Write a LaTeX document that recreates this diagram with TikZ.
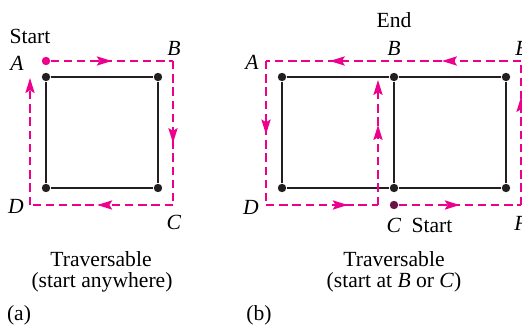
\documentclass[tikz,border=0pt]{standalone}
\usepackage{fontspec}
\setmainfont{Liberation Serif}
\usetikzlibrary{arrows.meta, decorations.markings}
\definecolor{TrailPink}{RGB}{236,0,140}
\definecolor{EdgeGray}{RGB}{35,31,32}

\tikzset{
	vert/.style={circle, fill=EdgeGray, inner sep=0pt, minimum size=4.2pt},
	edge/.style={draw=EdgeGray, line width=0.9pt},
	trail/.style={color=TrailPink, line width=0.85pt, dash pattern=on 4.2pt off 2.4pt},
	trail tip/.style={-{Stealth[length=7.5pt, width=4.6pt, inset=1.4pt]}},
	arrow at/.style={postaction={decorate, decoration={markings,
		mark=at position #1 with {\arrow[color=TrailPink]{Stealth[length=7.5pt, width=4.6pt, inset=1.4pt]}}}}},
	lbl/.style={inner sep=0pt, font=\fontsize{10.8}{13}\selectfont},
}

\begin{document}
\begin{tikzpicture}[x=0.5pt, y=-0.5pt]
	\useasboundingbox (0,0) rectangle (522,326);
	% (a) cuadrado
	\begin{scope}
		\node[vert] (aA) at (46,77) {};
		\node[vert] (aB) at (158,77) {};
		\node[vert] (aC) at (158,188) {};
		\node[vert] (aD) at (46,188) {};
		\foreach \u/\v in {aA/aB, aB/aC, aC/aD, aD/aA}
			\draw[edge] (\u) -- (\v);
		% recorrido
		\node[vert, fill=TrailPink] (aS) at (46,61) {};
		\coordinate (a1) at (173,61);
		\coordinate (a2) at (173,205);
		\coordinate (a3) at (30,205);
		\coordinate (a4) at (30,78);
		\draw[trail, arrow at=0.5] (aS) -- (a1);
		\draw[trail, arrow at=0.57] (a1) -- (a2);
		\draw[trail, arrow at=0.53] (a2) -- (a3);
		\draw[trail, trail tip] (a3) -- (a4);
		% etiquetas
		\node[lbl] (aStart) at (30,36) {Start};
		\node[lbl] (laA) at (17,63) {\textit{A}};
		\node[lbl] (laB) at (174,48) {\textit{B}};
		\node[lbl] (laC) at (174,222) {\textit{C}};
		\node[lbl] (laD) at (16,206) {\textit{D}};
		\node[lbl] (aCap1) at (101,259) {Traversable};
		\node[lbl] (aCap2) at (102,282) {(start anywhere)};
		\node[lbl] (aTag) at (19,315) {(a)};
	\end{scope}
	% (b) dos cuadrados
	\begin{scope}
		\node[vert] (bA) at (282,77) {};
		\node[vert] (bB) at (394,77) {};
		\node[vert] (bE) at (506,77) {};
		\node[vert] (bD) at (282,188) {};
		\node[vert] (bC) at (394,188) {};
		\node[vert] (bF) at (506,188) {};
		\foreach \u/\v in {bA/bB, bB/bE, bE/bF, bF/bC, bC/bD, bD/bA, bB/bC}
			\draw[edge] (\u) -- (\v);
		% recorrido
		\node[vert, fill=TrailPink!35!EdgeGray] (bS) at (394,205) {};
		\coordinate (b1) at (521,205);
		\coordinate (b2) at (521,61);
		\coordinate (b3) at (266,61);
		\coordinate (b4) at (266,205);
		\coordinate (b5) at (378,205);
		\coordinate (b6) at (378,80);
		\draw[trail, arrow at=0.5] (bS) -- (b1);
		\draw[trail, arrow at=0.75] (b1) -- (b2);
		\draw[trail, arrow at=0.31, arrow at=0.75] (b2) -- (b3);
		\draw[trail, arrow at=0.51] (b3) -- (b4);
		\draw[trail, arrow at=0.73] (b4) -- (b5);
		\draw[trail, arrow at=0.64, trail tip] (b5) -- (b6);
		% etiquetas
		\node[lbl] (bEnd) at (394,20) {End};
		\node[lbl] (lbA) at (252,62) {\textit{A}};
		\node[lbl] (lbB) at (394,48) {\textit{B}};
		\node[lbl] (lbE) at (522,48) {\textit{E}};
		\node[lbl] (lbD) at (251,207) {\textit{D}};
		\node[lbl] (lbC) at (394,225) {\textit{C}};
		\node[lbl] (lbF) at (521,223) {\textit{F}};
		\node[lbl] (bStart) at (432,225) {Start};
		\node[lbl] (bCap1) at (394,259) {Traversable};
		\node[lbl] (bCap2) at (394,282) {(start at \textit{B} or \textit{C})};
		\node[lbl] (bTag) at (259,315) {(b)};
	\end{scope}
\end{tikzpicture}
\end{document}
